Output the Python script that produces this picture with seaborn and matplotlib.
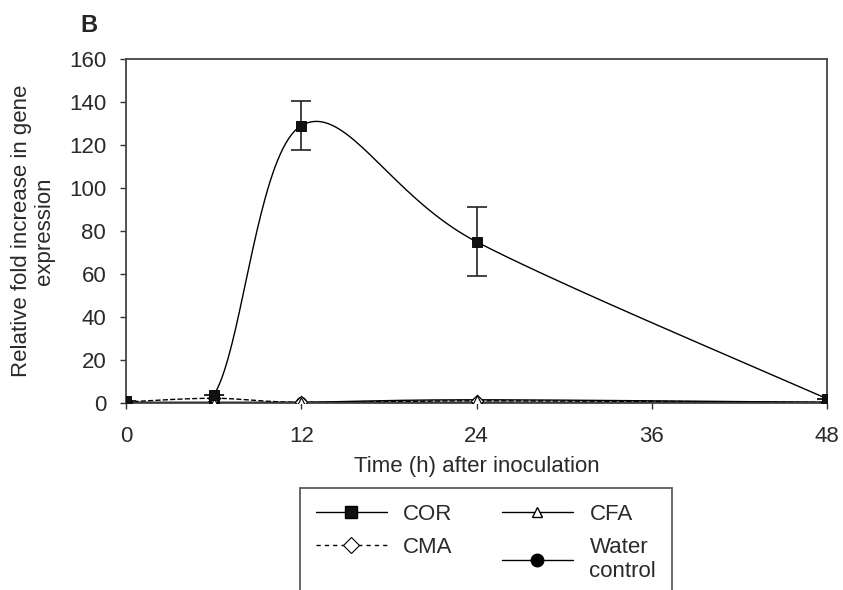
import numpy as np
import pandas as pd
import matplotlib
matplotlib.use("Agg")
import matplotlib.pyplot as plt
import seaborn as sns
from matplotlib.lines import Line2D

# ---- data ----
time_h = [0, 6, 12, 24, 48]
cor = [1, 3.5, 129, 75, 2]
cor_err = [0, 0, 11.5, 16, 0]
cfa = [0.3, 0.2, 0.3, 1.5, 0.3]
cma = [0.5, 2.2, 0.3, 1.0, 0.3]
water = [0.2, 0.3, 0.3, 0.3, 0.3]
series_names = ["COR", "CFA", "CMA", "Water\ncontrol"]
x_ticks = [0, 12, 24, 36, 48]
y_ticks = [0, 20, 40, 60, 80, 100, 120, 140, 160]

sns.set_theme(style="white")
plt.rcParams["font.family"] = ["Liberation Sans", "DejaVu Sans"]

TXT = "#2a2a2a"
FS = 16


def smooth(x, y, n=40):
    """Excel-style smoothed line (cubic Bezier with Catmull-Rom control points)."""
    x = np.asarray(x, float)
    y = np.asarray(y, float)
    pts = np.column_stack([x, y])
    out = []
    for i in range(len(pts) - 1):
        p0 = pts[i - 1] if i > 0 else pts[i]
        p1 = pts[i]
        p2 = pts[i + 1]
        p3 = pts[i + 2] if i + 2 < len(pts) else pts[i + 1]
        c1 = p1 + (p2 - p0) / 6.0
        c2 = p2 - (p3 - p1) / 6.0
        t = np.linspace(0, 1, n)[:, None]
        seg = ((1 - t) ** 3) * p1 + 3 * ((1 - t) ** 2) * t * c1 + 3 * (1 - t) * t ** 2 * c2 + t ** 3 * p2
        out.append(seg if i == 0 else seg[1:])
    s = np.vstack(out)
    return s[:, 0], s[:, 1]


fig = plt.figure(figsize=(8.43, 5.90), dpi=100)
ax = fig.add_axes([126 / 843, 1 - 403 / 590, (827 - 126) / 843, (403 - 59) / 590])

lw = 1.0
for vals, ls in [(water, "-"), (cfa, "-"), (cma, "--"), (cor, "-")]:
    sx, sy = smooth(time_h, vals)
    d = pd.DataFrame({"x": sx, "y": sy})
    sns.lineplot(data=d, x="x", y="y", ax=ax, color="black", lw=lw, linestyle=ls, sort=False,
                 estimator=None, legend=False)

dfm = pd.DataFrame({"t": time_h, "COR": cor, "CFA": cfa, "CMA": cma, "W": water})
ax.errorbar(time_h, cor, yerr=cor_err, fmt="none", ecolor="#222222", elinewidth=1.2,
            capsize=7, capthick=1.2, zorder=3)
sns.scatterplot(data=dfm, x="t", y="W", ax=ax, marker="o", s=55, color="black", edgecolor="black", zorder=4, legend=False)
sns.scatterplot(data=dfm, x="t", y="CMA", ax=ax, marker="D", s=40, facecolor="white", edgecolor="black", linewidth=0.8, zorder=5, legend=False)
sns.scatterplot(data=dfm, x="t", y="CFA", ax=ax, marker="^", s=45, facecolor="white", edgecolor="black", linewidth=0.8, zorder=6, legend=False)
sns.scatterplot(data=dfm, x="t", y="COR", ax=ax, marker="s", s=60, color="#111111", edgecolor="black", zorder=7, legend=False)

ax.set_xlim(0, 48)
ax.set_ylim(0, 160)
ax.set_xticks(x_ticks)
ax.set_yticks(y_ticks)
ax.set_xticklabels([str(v) for v in x_ticks], fontsize=FS, color=TXT)
ax.set_yticklabels([str(v) for v in y_ticks], fontsize=FS, color=TXT)
ax.tick_params(axis="both", direction="out", length=4.3, width=1, color="#333333",
               bottom=True, left=True)
ax.tick_params(axis="x", pad=12)
ax.tick_params(axis="y", pad=10)
for sp in ax.spines.values():
    sp.set_visible(True)
    sp.set_color("#444444")
    sp.set_linewidth(1.3)
ax.set_xlabel("Time (h) after inoculation", fontsize=FS, color=TXT, labelpad=7)
ax.set_ylabel("Relative fold increase in gene\nexpression", fontsize=FS, color=TXT,
              labelpad=10, linespacing=1.15)
ax.grid(False)

fig.text(80 / 843, 1 - 26 / 590, "B", fontsize=17, fontweight="heavy", ha="left", va="center")

handles = [
    Line2D([0], [0], color="black", lw=1, marker="s", markersize=9, markerfacecolor="#111111"),
    Line2D([0], [0], color="black", lw=1, marker="^", markersize=7, markerfacecolor="white"),
    Line2D([0], [0], color="black", lw=1, ls=(0, (3, 3)), marker="D", markersize=8, markerfacecolor="white",
           markeredgewidth=0.8),
    Line2D([0], [0], color="black", lw=1, marker="o", markersize=9, markerfacecolor="black"),
]
order = [0, 2, 1, 3]
leg = fig.legend([handles[i] for i in order], [series_names[i] for i in order],
                 loc="upper left", bbox_to_anchor=(300 / 843, 1 - 488 / 590), ncol=2,
                 fontsize=FS, frameon=True, fancybox=False, handlelength=3.2,
                 columnspacing=2.2, handletextpad=0.75, borderpad=0.7, labelspacing=0.55,
                 borderaxespad=0)
leg.get_frame().set_edgecolor("#333333")
leg.get_frame().set_linewidth(1.3)
for t in leg.get_texts():
    t.set_color(TXT)

fig.savefig("out.png", dpi=100, facecolor="white")
